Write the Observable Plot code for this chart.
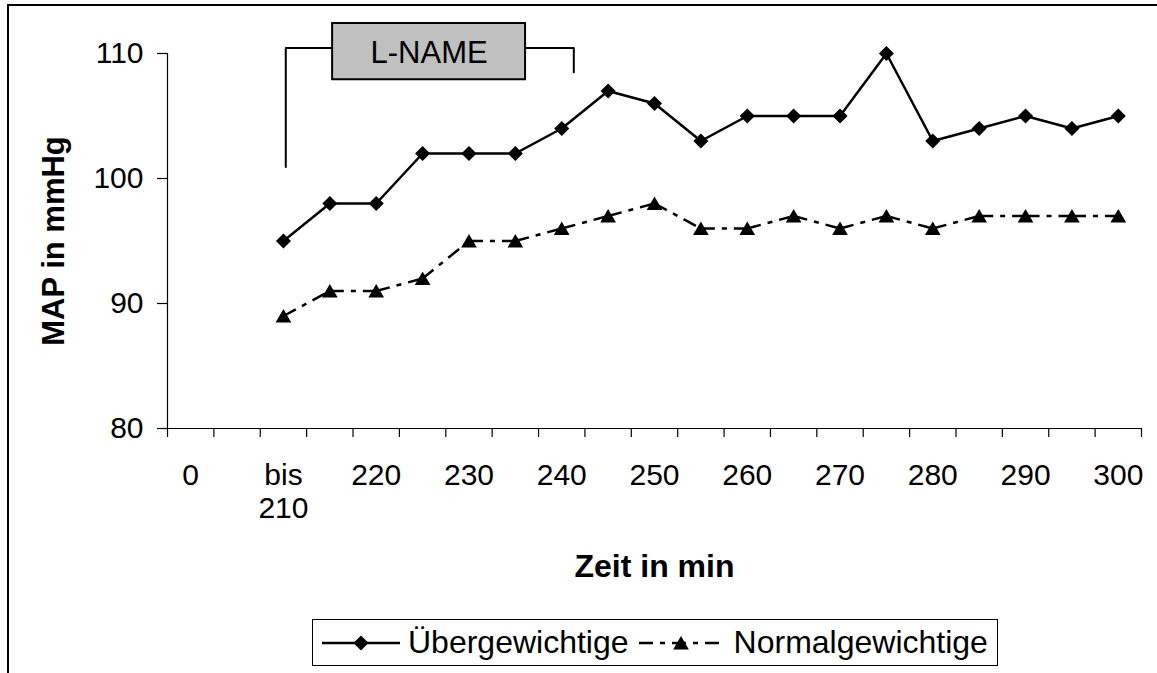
<!DOCTYPE html>
<html>
<head>
<meta charset="utf-8">
<script src="https://cdn.jsdelivr.net/npm/d3@7"></script>
<script src="https://cdn.jsdelivr.net/npm/@observablehq/plot@0.6"></script>
<style>
  body { margin: 0; background: #fff; }
  #chart { position: relative; width: 1157px; height: 673px; overflow: hidden;
           font-family: "Liberation Sans", Arial, sans-serif; color: #000; }
  #frame { position: absolute; left: 7px; top: 4px; width: 2000px; height: 2000px;
           border-left: 2px solid #000; border-top: 2px solid #000; }
  #plot { position: absolute; left: 0; top: 0; }
  #legend { position: absolute; left: 312px; top: 619px; width: 684px; height: 45px;
            border: 1.5px solid #000; background: #fff; display: flex; align-items: center;
            font-size: 32px; white-space: nowrap; }
  #legend svg { display: block; flex: none; }
</style>
</head>
<body>
<div id="chart">
  <div id="frame"></div>
  <div id="plot"></div>
  <div id="legend"></div>
</div>
<script>
// Time categories (only every second one carries a label)
const categories = ["0", "", "bis 210", "", "220", "", "230", "", "240", "", "250", "",
                    "260", "", "270", "", "280", "", "290", "", "300"];
// Series start at the "bis 210" category
const seriesStart = 2;
const uebergewichtige  = [95, 98, 98, 102, 102, 102, 104, 107, 106, 103, 105, 105, 105, 110, 103, 104, 105, 104, 105];
const normalgewichtige = [89, 91, 91, 92, 95, 95, 96, 97, 98, 96, 96, 97, 96, 97, 96, 97, 97, 97, 97];
const yTicks = [80, 90, 100, 110];
const yDomain = [80, 110];

// L-NAME infusion bracket (category index / mmHg)
const lnameLabel = "L-NAME";
const lnameStart = 2.05, lnameEnd = 8.26;
const lnameTop = 110.45, lnameStartFoot = 100.93, lnameEndFoot = 108.5;
const lnameBoxX = [3.06, 7.22], lnameBoxY = [107.9, 112.4];

const seriesNames = ["Übergewichtige", "Normalgewichtige"];
const yLabel = "MAP in mmHg";
const xLabel = "Zeit in min";

const toPoints = (vals) => vals.map((v, i) => ({i: i + seriesStart, v}));
const ueber = toPoints(uebergewichtige);
const normal = toPoints(normalgewichtige);
// each segment restarts its dash pattern
const normalSegs = normal.slice(1).map((d, k) => ({x1: normal[k].i, y1: normal[k].v, x2: d.i, y2: d.v}));

const bracket = [
  {side: "a", x: lnameStart, y: lnameStartFoot}, {side: "a", x: lnameStart, y: lnameTop}, {side: "a", x: lnameBoxX[0], y: lnameTop},
  {side: "b", x: lnameBoxX[1], y: lnameTop}, {side: "b", x: lnameEnd, y: lnameTop}, {side: "b", x: lnameEnd, y: lnameEndFoot}
];

const labelIdx = d3.range(0, categories.length, 2);
const boundaries = d3.range(categories.length + 1).map(k => k - 0.5);
const dash = "14,7,5,7";

const plot = Plot.plot({
  width: 1157,
  height: 610,
  marginLeft: 167,
  marginRight: 16,
  marginTop: 53,
  marginBottom: 182,
  style: {fontFamily: "'Liberation Sans', Arial, sans-serif", fontSize: "30px", background: "transparent", overflow: "visible"},
  x: {type: "linear", domain: [-0.5, categories.length - 0.5]},
  y: {domain: yDomain},
  marks: [
    // axes
    Plot.ruleX([-0.5], {stroke: "#000", strokeWidth: 1.2}),
    Plot.ruleY([yDomain[0]], {stroke: "#000", strokeWidth: 1.2}),
    Plot.axisY(yTicks, {tickSize: 10, tickPadding: 14, fontSize: 30, strokeWidth: 1.2}),
    Plot.axisX(boundaries, {tickSize: 9, tickFormat: () => "", strokeWidth: 1.2}),
    Plot.axisX(labelIdx, {tickSize: 0, tickPadding: 33, fontSize: 30, lineHeight: 1.1,
      tickFormat: i => categories[i].replace(" ", "\n")}),
    Plot.text([yLabel], {frameAnchor: "left", textAnchor: "middle", dx: -113, rotate: -90, fontSize: 31, fontWeight: "bold"}),
    Plot.text([xLabel], {frameAnchor: "bottom", dy: 148, fontSize: 32, fontWeight: "bold"}),
    // L-NAME annotation
    Plot.line(bracket, {x: "x", y: "y", z: "side", stroke: "#000", strokeWidth: 2}),
    Plot.rect([lnameLabel], {x1: lnameBoxX[0], x2: lnameBoxX[1], y1: lnameBoxY[0], y2: lnameBoxY[1],
      fill: "#c0c0c0", stroke: "#000", strokeWidth: 2}),
    Plot.text([lnameLabel], {x: (lnameBoxX[0] + lnameBoxX[1]) / 2, y: (lnameBoxY[0] + lnameBoxY[1]) / 2,
      text: d => d, fontSize: 31, dy: 1}),
    // series
    Plot.link(normalSegs, {x1: "x1", y1: "y1", x2: "x2", y2: "y2", stroke: "#000", strokeWidth: 2.5, strokeDasharray: dash}),
    Plot.dot(normal, {x: "i", y: "v", symbol: "triangle2", r: 7.5, fill: "#000", stroke: "none", dy: 2}),
    Plot.line(ueber, {x: "i", y: "v", stroke: "#000", strokeWidth: 2.5}),
    Plot.dot(ueber, {x: "i", y: "v", symbol: "diamond2", r: 6.8, fill: "#000", stroke: "none"})
  ]
});
document.getElementById("plot").appendChild(plot);

// legend
const legend = document.getElementById("legend");
function swatch(kind, w) {
  const ns = "http://www.w3.org/2000/svg";
  const svg = document.createElementNS(ns, "svg");
  svg.setAttribute("width", w);
  svg.setAttribute("height", 30);
  const line = document.createElementNS(ns, "line");
  line.setAttribute("x1", 0); line.setAttribute("x2", w);
  line.setAttribute("y1", 15); line.setAttribute("y2", 15);
  line.setAttribute("stroke", "#000"); line.setAttribute("stroke-width", 2.5);
  if (kind !== "ueber") line.setAttribute("stroke-dasharray", dash);
  svg.appendChild(line);
  const p = document.createElementNS(ns, "path");
  const sym = kind === "ueber" ? d3.symbol(d3.symbolDiamond2, 6.8 * 6.8 * Math.PI)
                               : d3.symbol(d3.symbolTriangle2, 7.5 * 7.5 * Math.PI);
  p.setAttribute("d", sym());
  p.setAttribute("transform", kind === "ueber" ? `translate(${w / 2},15)` : `translate(${w / 2},17)`);
  p.setAttribute("fill", "#000");
  svg.appendChild(p);
  return svg;
}
const s1 = swatch("ueber", 78); s1.style.marginLeft = "9px";
const t1 = document.createElement("span"); t1.textContent = seriesNames[0]; t1.style.marginLeft = "8px";
const s2 = swatch("normal", 84); s2.style.marginLeft = "10px";
const t2 = document.createElement("span"); t2.textContent = seriesNames[1]; t2.style.marginLeft = "11px";
legend.append(s1, t1, s2, t2);
</script>
</body>
</html>
